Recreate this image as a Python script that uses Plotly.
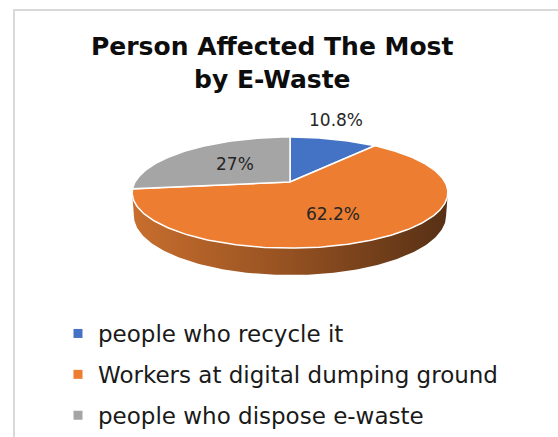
import numpy as np
import plotly.graph_objects as go

# ---- data ----
categories = ["people who recycle it",
              "Workers at digital dumping ground",
              "people who dispose e-waste"]
shares = [10.8, 62.2, 27.0]
colors = ["#4472C4", "#ED7D31", "#A5A5A5"]
title_lines = ["Person Affected The Most", "by E-Waste"]

# ---- page / projection settings (pixel space) ----
W, H = 558, 437
CX, CY = 290.0, 182.0          # projected centre of the pie top
FOCAL = 764.0                  # focal length in px
DIST = 4.93                    # camera distance (in pie radii)
ELEV = np.radians(20.2)        # camera elevation
THICK = 0.157                  # pie thickness (in pie radii)
CA, SA = np.cos(ELEV), np.sin(ELEV)
FONT = "DejaVu Sans"


def project(r, t, z=0.0):
    """Perspective projection of a point on the pie (polar r, t; height z)."""
    x3 = r * np.cos(t)
    y3 = r * np.sin(t)
    depth = DIST + CA * y3 - SA * z
    px = CX + FOCAL * x3 / depth
    py = CY - FOCAL * (SA * y3 + CA * z) / depth
    return px, py


fig = go.Figure()

# ---- side wall (only the front part is visible) ----
def ring_extremes(z):
    d = DIST - SA * z
    k = np.arcsin(CA / d)
    return -np.pi + k, -k

tl0, tr0 = ring_extremes(0.0)
tl1, tr1 = ring_extremes(-THICK)
t_top = np.linspace(tl0, tr0, 160)
t_bot = np.linspace(tr1, tl1, 160)
sx0, sy0 = project(1.0, t_top, 0.0)
sx1, sy1 = project(1.0, t_bot, -THICK)
side_x = np.concatenate([sx0, sx1, sx0[:1]])
side_y = np.concatenate([sy0, sy1, sy0[:1]])
fig.add_trace(go.Scatter(
    x=side_x, y=side_y, mode="lines", fill="toself",
    line=dict(width=0, color="rgba(0,0,0,0)"),
    fillgradient=dict(type="horizontal",
                      colorscale=[[0.0, "#C86E2E"], [0.45, "#9A5422"],
                                  [1.0, "#573015"]]),
    hoverinfo="skip", showlegend=False))

# ---- top face slices, clockwise from 12 o'clock ----
fracs = np.array(shares) / sum(shares)
starts = np.concatenate([[0.0], np.cumsum(fracs)[:-1]])
mids = []
for cat, f0, f, col in zip(categories, starts, fracs, colors):
    a0 = np.pi / 2 - 2 * np.pi * f0
    a1 = a0 - 2 * np.pi * f
    tt = np.linspace(a0, a1, max(int(f * 400), 12))
    ax, ay = project(1.0, tt)
    px = np.concatenate([[CX], ax, [CX]])
    py = np.concatenate([[CY], ay, [CY]])
    fig.add_trace(go.Scatter(
        x=px, y=py, mode="lines", fill="toself", fillcolor=col,
        line=dict(color="white", width=1.5),
        name=cat, hoverinfo="name", showlegend=False))
    mids.append((a0 + a1) / 2)

# ---- data labels ----
label_r = [1.36, 0.55, 0.5]
label_shift = [(-10, 7), (-3, -4), (0, 1)]
for v, tm, r, (dx, dy) in zip(shares, mids, label_r, label_shift):
    lx, ly = project(r, tm)
    fig.add_annotation(x=lx, y=ly, text=f"{v:g}%", showarrow=False,
                       xanchor="center", yanchor="middle",
                       xshift=dx, yshift=dy,
                       font=dict(family=FONT, size=17, color="#262626"))

# ---- legend entries ----
for cat, col in zip(categories, colors):
    fig.add_trace(go.Scatter(
        x=[None], y=[None], mode="markers", name=cat, legendgroup=cat,
        marker=dict(symbol="square", size=9, color=col)))

# ---- title ----
for i, line in enumerate(title_lines):
    fig.add_annotation(x=272, y=46 + 33.5 * i, text=f"<b>{line}</b>",
                       showarrow=False, xanchor="center", yanchor="middle",
                       font=dict(family=FONT, size=25, color="#0D0D0D"))

# ---- chart border ----
fig.add_shape(type="rect", x0=14, y0=10, x1=W + 20, y1=H + 20,
              line=dict(color="#D9D9D9", width=2), layer="below")

fig.update_layout(
    width=W, height=H, margin=dict(l=0, r=0, t=0, b=0),
    paper_bgcolor="white", plot_bgcolor="white",
    xaxis=dict(range=[0, W], visible=False, fixedrange=True),
    yaxis=dict(range=[H, 0], visible=False, fixedrange=True),
    legend=dict(x=58 / W, y=1 - 312 / H, xanchor="left", yanchor="top",
                traceorder="grouped", tracegroupgap=8,
                font=dict(family=FONT, size=23, color="#1A1A1A"),
                bgcolor="rgba(0,0,0,0)"),
    showlegend=True,
)

fig.write_html("out.html")
